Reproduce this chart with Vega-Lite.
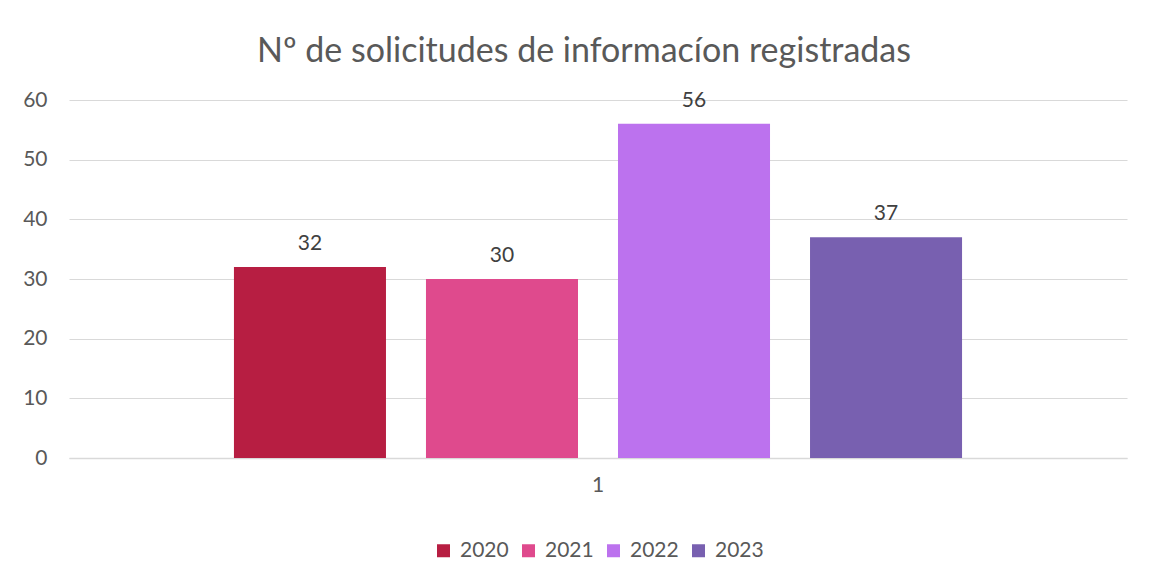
{
  "$schema": "https://vega.github.io/schema/vega-lite/v6.json",
  "width": 1058,
  "height": 358,
  "autosize": {"type": "none"},
  "padding": {"left": 69, "top": 100, "right": 41, "bottom": 124},
  "background": "white",
  "title": {
    "text": "Nº de solicitudes de informacíon registradas",
    "font": "Lato",
    "fontSize": 34,
    "fontWeight": "normal",
    "color": "#595959",
    "anchor": "middle",
    "offset": 20,
    "dx": -14
  },
  "data": {
    "values": [
      {"cat": "1", "year": "2020", "value": 32},
      {"cat": "1", "year": "2021", "value": 30},
      {"cat": "1", "year": "2022", "value": 56},
      {"cat": "1", "year": "2023", "value": 37}
    ]
  },
  "encoding": {
    "x": {
      "field": "cat",
      "type": "nominal",
      "scale": {"paddingInner": 0, "paddingOuter": 0},
      "axis": {
        "title": null,
        "labelAngle": 0,
        "ticks": false,
        "labelPadding": 16,
        "labelFont": "Lato",
        "labelFontSize": 21,
        "labelColor": "#595959",
        "domainColor": "#D9D9D9",
        "domainWidth": 1.5
      }
    },
    "xOffset": {
      "field": "year",
      "type": "nominal",
      "scale": {"paddingInner": 0.2083, "paddingOuter": 0.859}
    },
    "y": {
      "field": "value",
      "type": "quantitative",
      "scale": {"domain": [0, 60]},
      "axis": {
        "title": null,
        "values": [0, 10, 20, 30, 40, 50, 60],
        "ticks": false,
        "domain": false,
        "labelPadding": 22,
        "labelFont": "Lato",
        "labelFontSize": 21,
        "labelColor": "#595959",
        "gridColor": "#D9D9D9",
        "gridWidth": 1.2
      }
    }
  },
  "layer": [
    {
      "mark": {"type": "bar"},
      "encoding": {
        "color": {
          "field": "year",
          "type": "nominal",
          "scale": {
            "domain": ["2020", "2021", "2022", "2023"],
            "range": ["#B71E42", "#DF4A8D", "#BC72EE", "#7860B0"]
          },
          "legend": {
            "title": null,
            "orient": "none",
            "direction": "horizontal",
            "legendX": 364,
            "legendY": 440,
            "symbolType": "square",
            "symbolSize": 169,
            "symbolStrokeWidth": 0,
            "labelFont": "Lato",
            "labelFontSize": 21,
            "labelColor": "#595959",
            "labelOffset": 6,
            "columnPadding": 9
          }
        }
      }
    },
    {
      "mark": {
        "type": "text",
        "baseline": "alphabetic",
        "dy": -17,
        "font": "Lato",
        "fontSize": 21,
        "color": "#404040"
      },
      "encoding": {
        "text": {"field": "value", "type": "quantitative"}
      }
    }
  ],
  "config": {
    "view": {"stroke": null}
  }
}
